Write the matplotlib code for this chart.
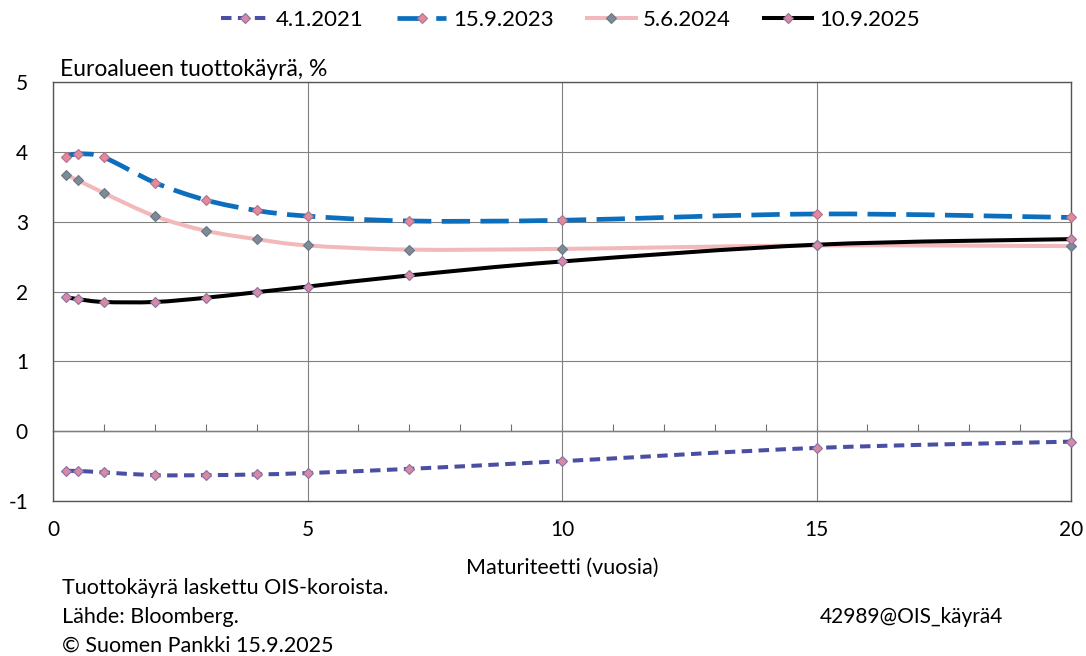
import matplotlib
matplotlib.use("Agg")
import matplotlib.pyplot as plt
from matplotlib.path import Path
from matplotlib.patches import PathPatch
from matplotlib.lines import Line2D
import numpy as np

plt.rcParams['font.family'] = ['Lato', 'DejaVu Sans']
plt.rcParams['axes.unicode_minus'] = False

# maturities (years) and OIS yield curves, %
maturities = [0.25, 0.5, 1, 2, 3, 4, 5, 7, 10, 15, 20]
curve_2021 = [-0.57, -0.57, -0.59, -0.63, -0.63, -0.62, -0.60, -0.54, -0.43, -0.24, -0.15]
curve_2023 = [3.93, 3.97, 3.92, 3.56, 3.31, 3.16, 3.08, 3.01, 3.02, 3.11, 3.06]
curve_2024 = [3.67, 3.59, 3.41, 3.08, 2.87, 2.75, 2.66, 2.60, 2.61, 2.66, 2.65]
curve_2025 = [1.92, 1.89, 1.85, 1.85, 1.91, 1.99, 2.07, 2.23, 2.43, 2.67, 2.75]
labels = ['4.1.2021', '15.9.2023', '5.6.2024', '10.9.2025']

yticks = [-1, 0, 1, 2, 3, 4, 5]
xticks = [0, 5, 10, 15, 20]

styles = [
    dict(color='#4a4fa3', lw=2.9, ls=(0, (2.6, 1.6)), mfc='#d68aa3', mec='#8a6fa0'),
    dict(color='#0b6fbd', lw=3.4, ls=(0, (6.0, 2.2)), mfc='#e08a9c', mec='#b56f8a'),
    dict(color='#f2b8ba', lw=2.9, ls='-', mfc='#7d8a98', mec='#6a7684'),
    dict(color='#000000', lw=2.9, ls='-', mfc='#d68aa3', mec='#8a6fa0'),
]


def smooth_path(x, y):
    # Excel-style smoothed line: cubic Bezier segments through the points
    pts = np.column_stack([x, y])
    verts = [pts[0]]
    codes = [Path.MOVETO]
    n = len(pts)
    for i in range(n - 1):
        p0 = pts[i - 1] if i > 0 else pts[i]
        p1 = pts[i]
        p2 = pts[i + 1]
        p3 = pts[i + 2] if i + 2 < n else pts[i + 1]
        c1 = p1 + (p2 - p0) / 6.0
        c2 = p2 - (p3 - p1) / 6.0
        verts += [c1, c2, p2]
        codes += [Path.CURVE4] * 3
    return Path(verts, codes)


fig = plt.figure(figsize=(10.86, 6.56), dpi=100)
ax = fig.add_axes([53 / 1086, 1 - 501 / 656, 1018 / 1086, 419 / 656])

handles = []
for ys, st, lab in zip([curve_2021, curve_2023, curve_2024, curve_2025], styles, labels):
    patch = PathPatch(smooth_path(maturities, ys), facecolor='none', edgecolor=st['color'],
                      lw=st['lw'], linestyle=st['ls'], capstyle='butt', zorder=3)
    ax.add_patch(patch)
    ax.plot(maturities, ys, ls='none', marker='D', ms=5.5, mfc=st['mfc'], mec=st['mec'],
            mew=0.8, zorder=4, clip_on=False)
    handles.append(Line2D([], [], color=st['color'], lw=st['lw'], ls=st['ls'], marker='D',
                          ms=5.5, mfc=st['mfc'], mec=st['mec'], mew=0.8))

ax.set_xlim(0, 20)
ax.set_ylim(-1, 5)
ax.set_xticks(xticks)
ax.set_yticks(yticks)
ax.grid(True, color='#808080', lw=0.8)
ax.set_axisbelow(True)
ax.tick_params(length=0, labelsize=15, pad=18)
ax.tick_params(axis='x', pad=14)
for sp in ax.spines.values():
    sp.set_color('#555555')
    sp.set_linewidth(1.0)

# zero line with yearly tick marks
zero_ax = ax.secondary_xaxis(1 / 6)
zero_ax.set_xticks(range(1, 20))
zero_ax.tick_params(direction='in', length=5, color='#707070', labelbottom=False)
zero_ax.spines['bottom'].set_color('#555555')
zero_ax.spines['bottom'].set_linewidth(1.0)

ax.text(0.007, 1.014, 'Euroalueen tuottokäyrä, %', transform=ax.transAxes,
        fontsize=16.5, va='baseline', ha='left')

fig.text(562 / 1086, 1 - 568 / 656, 'Maturiteetti (vuosia)', fontsize=15.5, ha='center', va='center')

fig.legend(handles, labels, loc='center', bbox_to_anchor=(0.525, 1 - 20 / 656), ncol=4,
           frameon=False, fontsize=16, handlelength=2.2, columnspacing=1.5, handletextpad=0.3)

fig.text(62 / 1086, 1 - 588 / 656, 'Tuottokäyrä laskettu OIS-koroista.', fontsize=15.5, va='center')
fig.text(62 / 1086, 1 - 617 / 656, 'Lähde: Bloomberg.', fontsize=15.5, va='center')
fig.text(62 / 1086, 1 - 646 / 656, '© Suomen Pankki 15.9.2025', fontsize=15.5, va='center')
fig.text(820 / 1086, 1 - 617 / 656, '42989@OIS_käyrä4', fontsize=15, va='center')

fig.savefig('out.png', dpi=100)
